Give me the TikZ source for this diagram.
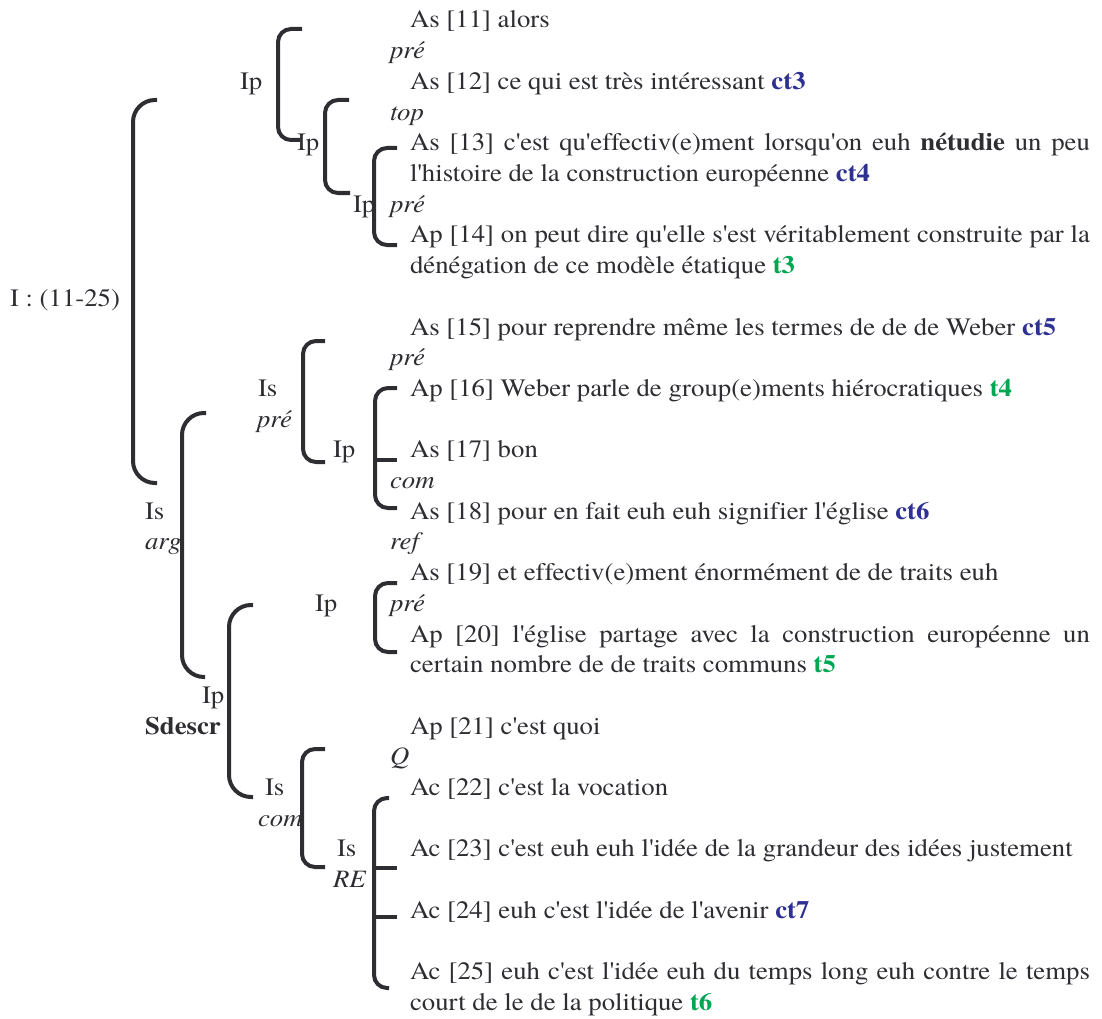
\documentclass[tikz,border=0pt]{standalone}
\usepackage{fontspec}
\setmainfont{texgyretermes}[Extension=.otf, UprightFont=*-regular, BoldFont=*-bold, ItalicFont=*-italic, BoldItalicFont=*-bolditalic, FakeStretch=1.071, Ligatures=NoCommon]
\definecolor{ink}{RGB}{45,45,50}
\definecolor{ctblue}{RGB}{46,49,146}
\definecolor{tgreen}{RGB}{0,166,81}
\newcommand{\ct}[1]{\textbf{\textcolor{ctblue}{#1}}}
\newcommand{\tg}[1]{\textbf{\textcolor{tgreen}{#1}}}
\newcommand{\jl}[1]{\makebox[680pt][s]{#1}}
\newcommand{\q}{\textquotesingle}
\begin{document}
\begin{tikzpicture}[x=1pt,y=-1pt,
  txt/.style={anchor=base west, inner sep=0pt, outer sep=0pt, text=ink, font=\fontsize{25}{30}\selectfont},
  brk/.style={draw=ink, line width=4pt, rounded corners=13pt},
  bigbrk/.style={draw=ink, line width=4pt, rounded corners=22pt},
  tick/.style={draw=ink, line width=4pt}]
\useasboundingbox (0,0) rectangle (1102,1019);
% main column
\node[txt] (l0)  at (410,28)     {As [11] alors};
\node[txt] (l1)  at (390,58.7)   {\textit{pré}};
\node[txt] (l2)  at (410,89.4)   {As [12] ce qui est très intéressant \ct{ct3}};
\node[txt] (l3)  at (390,120.1)  {\textit{top}};
\node[txt] (l4)  at (410,150.8)  {\jl{As [13] c\q est qu\q effectiv(e)ment lorsqu\q on euh \textbf{nétudie} un peu}};
\node[txt] (l5)  at (410,181.5)  {l\q histoire de la construction européenne \ct{ct4}};
\node[txt] (l6)  at (390,212.2)  {\textit{pré}};
\node[txt] (l7)  at (410,242.9)  {\jl{Ap [14] on peut dire qu\q elle s\q est véritablement construite par la}};
\node[txt] (l8)  at (410,273.6)  {dénégation de ce modèle étatique \tg{t3}};
\node[txt] (l10) at (410,335)    {As [15] pour reprendre même les termes de de de Weber \ct{ct5}};
\node[txt] (l11) at (390,365.7)  {\textit{pré}};
\node[txt] (l12) at (410,396.4)  {Ap [16] Weber parle de group(e)ments hiérocratiques \tg{t4}};
\node[txt] (l14) at (410,457.8)  {As [17] bon};
\node[txt] (l15) at (390,488.5)  {\textit{com}};
\node[txt] (l16) at (410,519.2)  {As [18] pour en fait euh euh signifier l\q église \ct{ct6}};
\node[txt] (l17) at (390,549.9)  {\textit{ref}};
\node[txt] (l18) at (410,580.6)  {As [19] et effectiv(e)ment énormément de de traits euh};
\node[txt] (l19) at (390,611.3)  {\textit{pré}};
\node[txt] (l20) at (410,642)    {\jl{Ap [20] l\q église partage avec la construction européenne un}};
\node[txt] (l21) at (410,672.7)  {certain nombre de de traits communs \tg{t5}};
\node[txt] (l23) at (410,734.1)  {Ap [21] c\q est quoi};
\node[txt] (l24) at (390,764.8)  {\textit{Q}};
\node[txt] (l25) at (410,795.5)  {Ac [22] c\q est la vocation};
\node[txt] (l27) at (410,856.9)  {Ac [23] c\q est euh euh l\q idée de la grandeur des idées justement};
\node[txt] (l29) at (410,918.3)  {Ac [24] euh c\q est l\q idée de l\q avenir \ct{ct7}};
\node[txt] (l31) at (410,979.7)  {\jl{Ac [25] euh c\q est l\q idée euh du temps long euh contre le temps}};
\node[txt] (l32) at (410,1010.4) {court de le de la politique \tg{t6}};
% left labels
\node[txt] (root) at (10,306)    {I : (11-25)};
\node[txt] (ipa)  at (240,89.4)  {Ip};
\node[txt] (ipb)  at (297,150.8) {Ip};
\node[txt] (ipc)  at (353,212.2) {Ip};
\node[txt] (isa)  at (258,396.4) {Is};
\node[txt] (isar) at (257,427.1) {\textit{pré}};
\node[txt] (ipd)  at (333,457.8) {Ip};
\node[txt] (isb)  at (145,519.2) {Is};
\node[txt] (isbr) at (145,549.9) {\textit{arg}};
\node[txt] (ipe)  at (315,611.3) {Ip};
\node[txt] (ipf)  at (202,703.4) {Ip};
\node[txt] (ipfr) at (145,734.1) {\textbf{Sdescr}};
\node[txt] (isc)  at (265,795.5) {Is};
\node[txt] (iscr) at (258,826.2) {\textit{com}};
\node[txt] (isd)  at (337,856.9) {Is};
\node[txt] (isdr) at (333,887.6) {\textit{RE}};
% brackets
\draw[bigbrk] (157,100) -- (133,100) -- (133,483) -- (157,483);
\draw[brk] (302,29) -- (278,29) -- (278,140) -- (300,140);
\draw[brk] (349,100) -- (325,100) -- (325,193) -- (350,193);
\draw[brk] (397,148) -- (374,148) -- (374,245) -- (397,245);
\draw[brk] (325,341) -- (303,341) -- (303,462) -- (325,462);
\draw[brk] (397,388) -- (375,388) -- (375,508) -- (397,508);
\draw[tick] (375,460) -- (397,460);
\draw[bigbrk] (206,413) -- (182,413) -- (182,677) -- (205,677);
\draw[brk] (397,583) -- (375,583) -- (375,652) -- (397,652);
\draw[bigbrk] (253,605) -- (229,605) -- (229,797) -- (253,797);
\draw[brk] (325,749) -- (302,749) -- (302,867) -- (325,867);
\draw[brk] (389,798) -- (374,798) -- (374,988) -- (389,988);
\draw[tick] (374,868) -- (397,868);
\draw[tick] (374,917) -- (397,917);
\end{tikzpicture}
\end{document}
